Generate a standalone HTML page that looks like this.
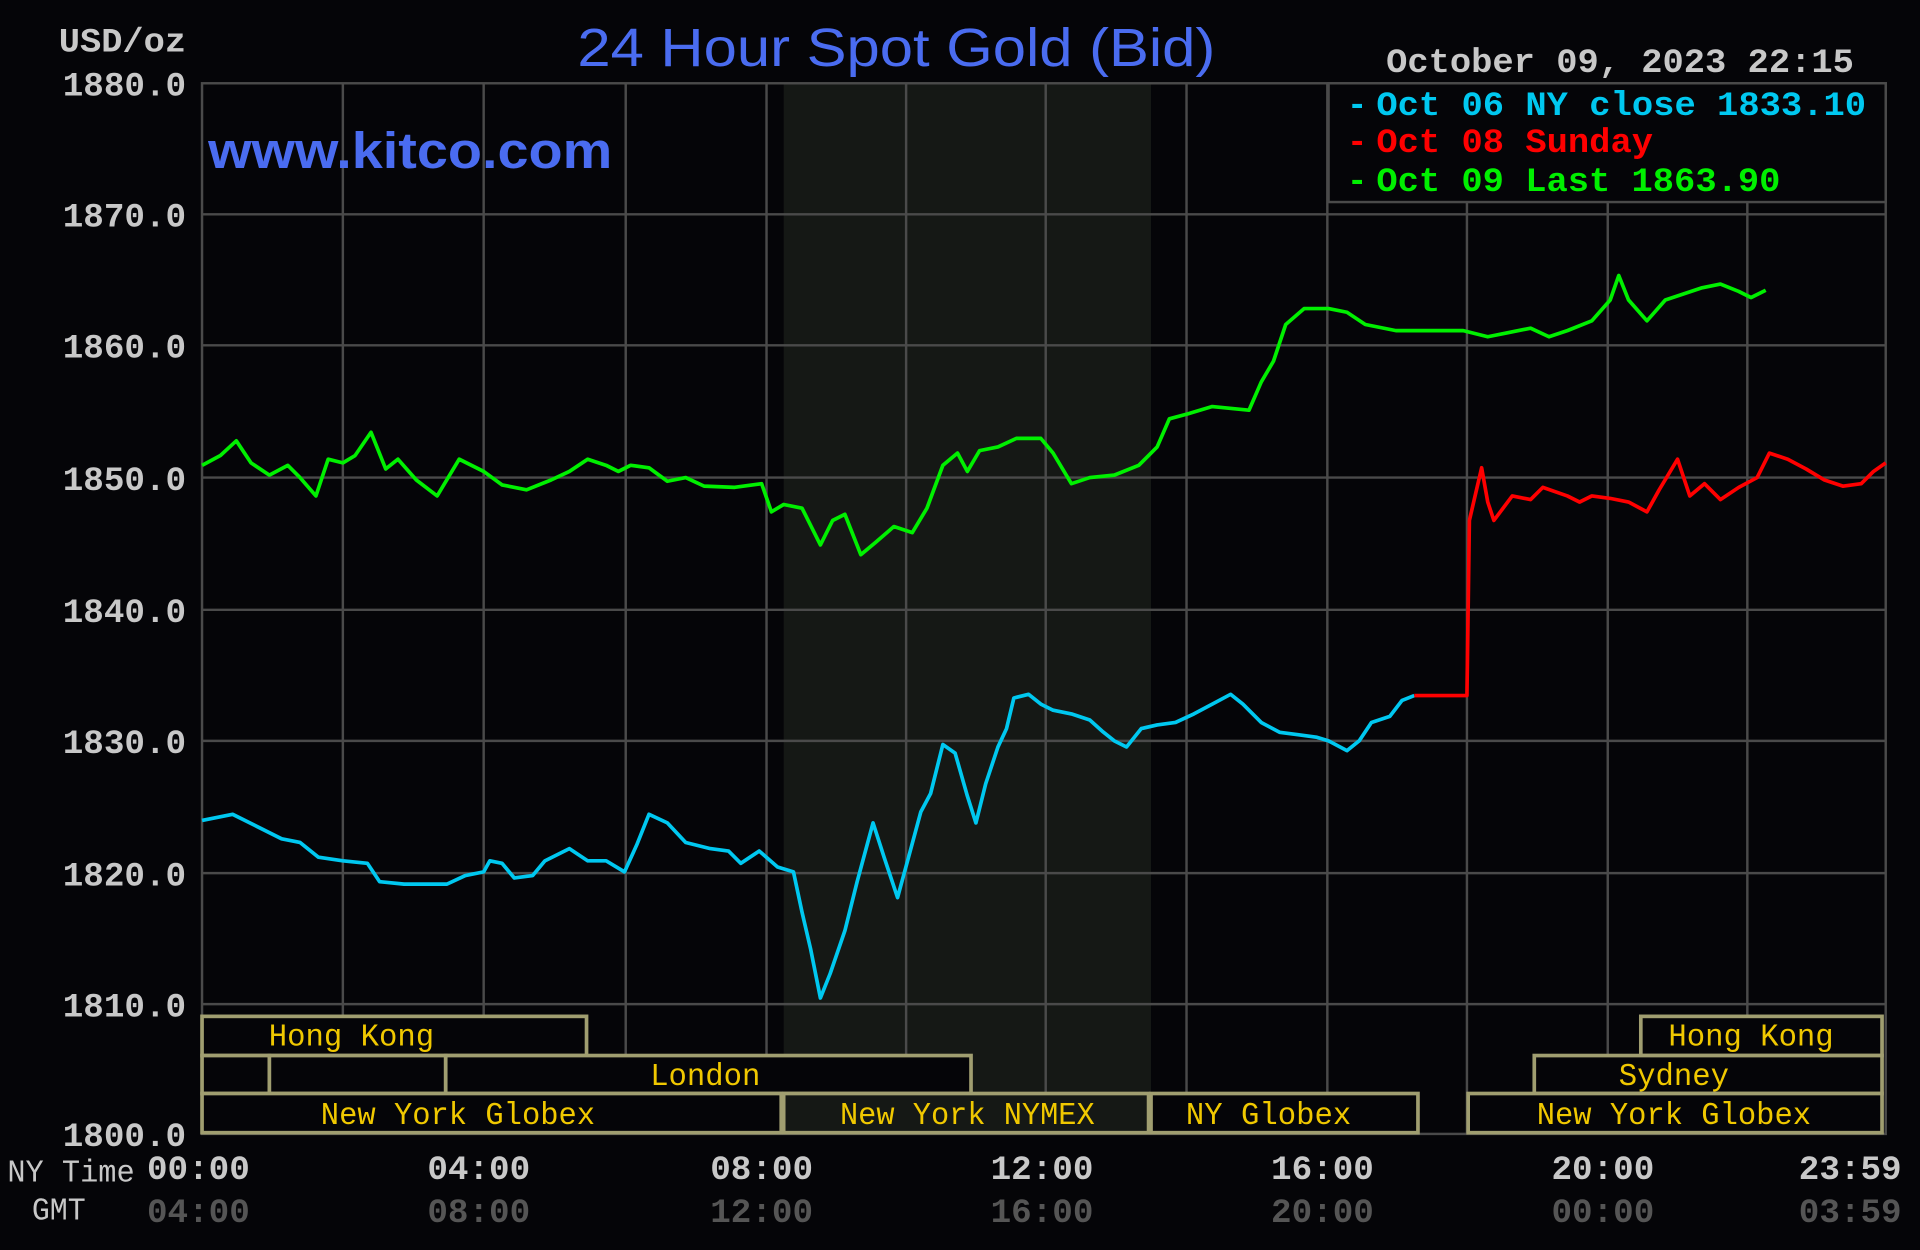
<!DOCTYPE html>
<html><head><meta charset="utf-8"><style>
html,body{margin:0;padding:0;background:#050508;}
svg{display:block;}
.m{font-family:"Liberation Mono",monospace;font-weight:bold;}
</style></head><body>
<svg width="1920" height="1250" viewBox="0 0 1568 1020.8" preserveAspectRatio="none" xmlns="http://www.w3.org/2000/svg">
<rect x="0" y="0" width="1568" height="1021" fill="#050508"/>
<rect x="640" y="68" width="300" height="858" fill="#151815"/>
<g stroke="#4a4a4a" stroke-width="2" fill="none">
<rect x="165" y="68" width="1375" height="858"/>
<path d="M280 68V926M395 68V926M511 68V926M626 68V926M740 68V926M854 68V926M969 68V926M1084 68V926M1198 68V926M1313 68V926M1427 68V926"/>
<path d="M165 175H1540M165 282H1540M165 390H1540M165 498H1540M165 605H1540M165 713H1540M165 820H1540"/>
</g>
<rect x="1085" y="68" width="455" height="97" fill="#050508" stroke="#4a4a4a" stroke-width="2"/>
<!-- sessions -->
<g fill="#050508" stroke="#a09e70" stroke-width="3">
<rect x="165" y="830" width="314" height="32"/>
<rect x="1340" y="830" width="197" height="32"/>
<rect x="165" y="862" width="55" height="31"/>
<rect x="220" y="862" width="144" height="31"/>
<rect x="364" y="862" width="429" height="31"/>
<rect x="1253" y="862" width="284" height="31"/>
<rect x="165" y="893" width="473" height="32"/>
<rect x="640" y="893" width="298" height="32" fill="#151815"/>
<rect x="940" y="893" width="218" height="32"/>
<rect x="1199" y="893" width="338" height="32"/>
</g>
<g font-family="Liberation Mono,monospace" font-size="26" fill="#f0c800" text-anchor="middle">
<text x="287" y="854" textLength="135" lengthAdjust="spacingAndGlyphs">Hong Kong</text>
<text x="1430" y="854" textLength="135" lengthAdjust="spacingAndGlyphs">Hong Kong</text>
<text x="576" y="886" textLength="90" lengthAdjust="spacingAndGlyphs">London</text>
<text x="1367" y="886" textLength="90" lengthAdjust="spacingAndGlyphs">Sydney</text>
<text x="374" y="918" textLength="224" lengthAdjust="spacingAndGlyphs">New York Globex</text>
<text x="790" y="918" textLength="208" lengthAdjust="spacingAndGlyphs">New York NYMEX</text>
<text x="1036" y="918" textLength="135" lengthAdjust="spacingAndGlyphs">NY Globex</text>
<text x="1367" y="918" textLength="224" lengthAdjust="spacingAndGlyphs">New York Globex</text>
</g>
<!-- series -->
<g fill="none" stroke-width="3" stroke-linejoin="round">
<polyline stroke="#00c8f0" points="165,670 190,665 210,675 230,685 245,688 260,700 280,703 300,705 310,720 330,722 365,722 380,715 395,712 400,703 410,705 420,717 435,715 445,703 465,693 480,703 495,703 510,712 520,690 530,665 545,672 560,688 580,693 595,695 605,705 620,695 635,708 648,712 655,745 662,775 670,815 678,795 690,760 700,720 713,672 722,700 733,733 742,700 752,663 760,648 770,608 780,615 790,650 797,672 805,640 815,610 822,595 828,570 840,567 850,575 860,580 875,583 890,588 900,597 910,605 920,610 932,595 945,592 960,590 975,583 990,575 1005,567 1015,575 1030,590 1045,598 1060,600 1075,602 1085,605 1100,613 1110,605 1120,590 1135,585 1145,572 1155,568"/>
<polyline stroke="#ff0000" points="1155,568 1198,568 1200,425 1210,382 1215,410 1220,425 1235,405 1250,408 1260,398 1280,405 1290,410 1300,405 1315,407 1330,410 1345,418 1355,400 1370,375 1380,405 1392,395 1405,408 1420,398 1435,390 1445,370 1460,375 1475,383 1490,392 1505,397 1520,395 1530,385 1540,378"/>
<polyline stroke="#00f000" points="165,380 180,372 193,360 205,378 220,388 235,380 245,390 258,405 268,375 280,378 290,372 303,353 315,383 325,375 340,392 357,405 375,375 395,385 410,396 430,400 450,392 465,385 480,375 495,380 505,385 515,380 530,382 545,393 560,390 575,397 600,398 622,395 630,418 640,412 655,415 670,445 680,425 690,420 703,453 715,443 730,430 745,435 757,415 770,380 782,370 790,385 800,368 815,365 830,358 850,358 860,370 875,395 890,390 910,388 930,380 945,365 955,342 970,338 990,332 1020,335 1030,312 1040,295 1050,265 1065,252 1085,252 1100,255 1115,265 1140,270 1170,270 1195,270 1215,275 1230,272 1250,268 1265,275 1280,270 1300,262 1315,245 1322,225 1330,245 1345,262 1360,245 1375,240 1390,235 1405,232 1420,238 1430,243 1442,237"/>
</g>
<!-- titles -->
<text x="732" y="54" text-anchor="middle" font-family="Liberation Sans,sans-serif" font-size="44" fill="#4a6cf0" textLength="521" lengthAdjust="spacingAndGlyphs">24 Hour Spot Gold (Bid)</text>
<text x="170" y="137" font-family="Liberation Sans,sans-serif" font-weight="bold" font-size="42" fill="#4a6cf0" textLength="330" lengthAdjust="spacingAndGlyphs">www.kitco.com</text>
<text class="m" x="1132" y="59" font-size="28" fill="#c8c8c8" textLength="382" lengthAdjust="spacingAndGlyphs">October 09, 2023 22:15</text>
<g class="m" font-size="28">
<text x="1100" y="94" fill="#00c8f0">-</text><text x="1124" y="94" fill="#00c8f0" textLength="400" lengthAdjust="spacingAndGlyphs">Oct 06 NY close 1833.10</text>
<text x="1100" y="124" fill="#ff0000">-</text><text x="1124" y="124" fill="#ff0000" textLength="226" lengthAdjust="spacingAndGlyphs">Oct 08 Sunday</text>
<text x="1100" y="156" fill="#00f000">-</text><text x="1124" y="156" fill="#00f000" textLength="330" lengthAdjust="spacingAndGlyphs">Oct 09 Last 1863.90</text>
</g>
<g class="m" font-size="28" fill="#c8c8c8" text-anchor="end">
<text x="152" y="42" textLength="104" lengthAdjust="spacingAndGlyphs">USD/oz</text>
<text x="152" y="78">1880.0</text><text x="152" y="185">1870.0</text><text x="152" y="292">1860.0</text>
<text x="152" y="400">1850.0</text><text x="152" y="508">1840.0</text><text x="152" y="615">1830.0</text>
<text x="152" y="723">1820.0</text><text x="152" y="830">1810.0</text><text x="152" y="936">1800.0</text>
</g>
<g class="m" font-size="28" fill="#c8c8c8" text-anchor="middle">
<text x="162" y="963">00:00</text><text x="391" y="963">04:00</text><text x="622" y="963">08:00</text>
<text x="851" y="963">12:00</text><text x="1080" y="963">16:00</text><text x="1309" y="963">20:00</text><text x="1511" y="963">23:59</text>
</g>
<g class="m" font-size="28" fill="#555" text-anchor="middle">
<text x="162" y="998">04:00</text><text x="391" y="998">08:00</text><text x="622" y="998">12:00</text>
<text x="851" y="998">16:00</text><text x="1080" y="998">20:00</text><text x="1309" y="998">00:00</text><text x="1511" y="998">03:59</text>
</g>
<text x="6" y="965" font-family="Liberation Mono,monospace" font-size="26" fill="#c8c8c8" textLength="104" lengthAdjust="spacingAndGlyphs">NY Time</text>
<text x="26" y="996" font-family="Liberation Mono,monospace" font-size="26" fill="#c8c8c8" textLength="44" lengthAdjust="spacingAndGlyphs">GMT</text>
</svg>
</body></html>
